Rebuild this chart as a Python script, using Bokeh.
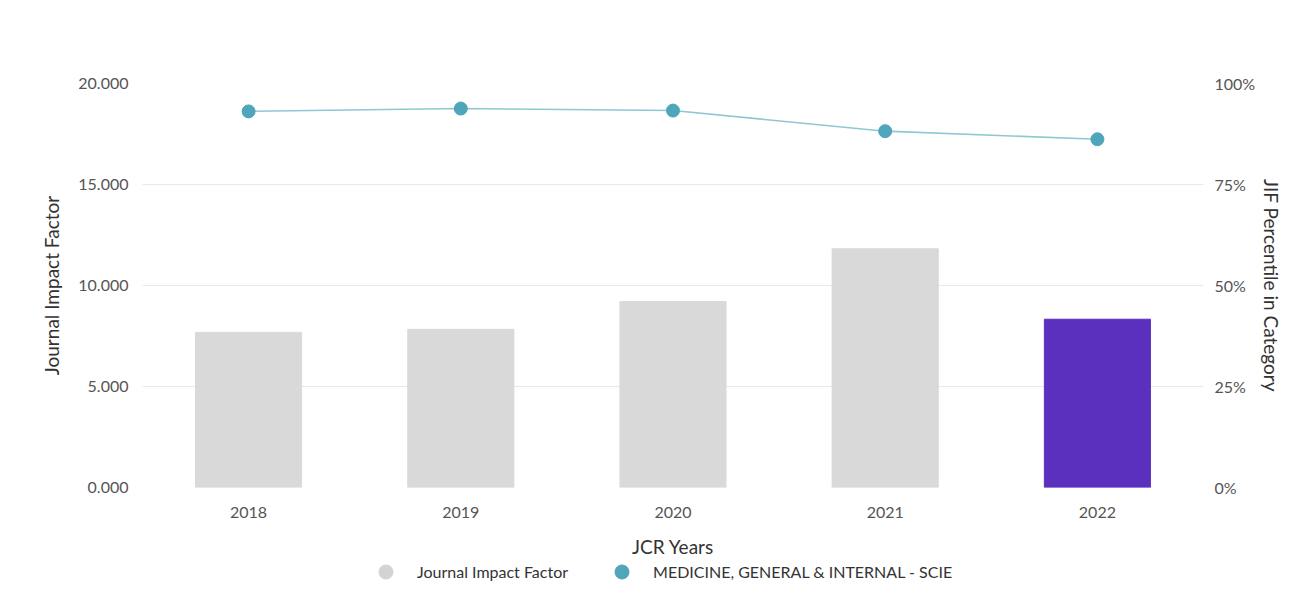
from bokeh.plotting import figure
from bokeh.layouts import column
from bokeh.models import (Range1d, LinearAxis, FixedTicker, NumeralTickFormatter,
                          PrintfTickFormatter, Legend, LegendItem, ColumnDataSource)
from bokeh.embed import file_html
from bokeh.resources import INLINE

years = ["2018", "2019", "2020", "2021", "2022"]
jif = [7.68, 7.83, 9.21, 11.82, 8.33]
percentile = [93.1, 93.8, 93.3, 88.2, 86.2]
left_ticks = [0, 5, 10, 15, 20]
right_ticks = [0, 25, 50, 75, 100]
highlight_year = "2022"
series_names = ["Journal Impact Factor", "MEDICINE, GENERAL & INTERNAL - SCIE"]

FONT = "Lato"
GRAY = "#d9d9d9"
PURPLE = "#5c30be"
TEAL = "#4fa5b9"

colors = [PURPLE if y == highlight_year else GRAY for y in years]
src = ColumnDataSource(dict(x=years, jif=jif, pct=percentile, color=colors))

p = figure(width=1287, height=560, x_range=years, y_range=Range1d(0, 20),
           output_backend="svg", toolbar_location=None,
           min_border_left=142, min_border_right=84, min_border_top=83, min_border_bottom=71)
p.outline_line_color = None
p.background_fill_color = "white"
p.border_fill_color = "white"

p.extra_y_ranges = {"pct": Range1d(0, 100)}

p.vbar(x="x", top="jif", width=0.5, color="color", source=src)
p.line(x="x", y="pct", y_range_name="pct", source=src, line_color="#8fc8d4", line_width=1.6)
p.scatter(x="x", y="pct", y_range_name="pct", source=src, size=13, fill_color=TEAL,
          line_color=TEAL)

ya = p.yaxis[0]
ya.ticker = FixedTicker(ticks=left_ticks)
ya.formatter = NumeralTickFormatter(format="0.000")
ya.axis_label = "Journal Impact Factor"

ra = LinearAxis(y_range_name="pct", ticker=FixedTicker(ticks=right_ticks),
                formatter=PrintfTickFormatter(format="%d%%"),
                axis_label="JIF Percentile in Category")
p.add_layout(ra, "right")

xa = p.xaxis[0]
xa.axis_label = "JCR Years"

for ax in [ya, ra, xa]:
    ax.axis_line_color = None
    ax.major_tick_line_color = None
    ax.minor_tick_line_color = None
    ax.major_label_text_font = FONT
    ax.major_label_text_font_size = "16px"
    ax.major_label_text_color = "#555555"
    ax.axis_label_text_font = FONT
    ax.axis_label_text_font_size = "19px"
    ax.axis_label_text_font_style = "normal"
    ax.axis_label_text_color = "#333333"
    ax.major_label_standoff = 5

ya.major_label_standoff = 8
xa.major_label_standoff = 13
xa.axis_label_standoff = 14
ya.axis_label_standoff = 12
ra.axis_label_standoff = 2

p.xgrid.grid_line_color = None
p.ygrid.ticker = FixedTicker(ticks=left_ticks)
p.ygrid.grid_line_color = "#e8e8e8"
p.ygrid.grid_line_width = 1

# legend strip (its markers fall outside its own view; only the legend shows)
lg = figure(width=1287, height=22, output_backend="svg", toolbar_location=None,
            x_range=years, y_range=Range1d(-20, -10), min_border=0)
lg.outline_line_color = None
lg.axis.visible = False
lg.grid.visible = False
d1 = lg.scatter(x="x", y="jif", source=src, size=14, fill_color="#d3d3d3", line_color="#d3d3d3")
d2 = lg.scatter(x="x", y="pct", source=src, size=14, fill_color=TEAL, line_color=TEAL)
legend = Legend(items=[LegendItem(label=series_names[0], renderers=[d1]),
                       LegendItem(label=series_names[1], renderers=[d2])],
                orientation="horizontal", location=(226, -7),
                label_text_font=FONT, label_text_font_size="16px", label_text_color="#333333",
                border_line_color=None, background_fill_alpha=0,
                glyph_width=35, glyph_height=35, spacing=36, label_standoff=14,
                padding=0, margin=0)
lg.add_layout(legend, "center")

open("out.html", "w").write(file_html(column(p, lg), INLINE))
